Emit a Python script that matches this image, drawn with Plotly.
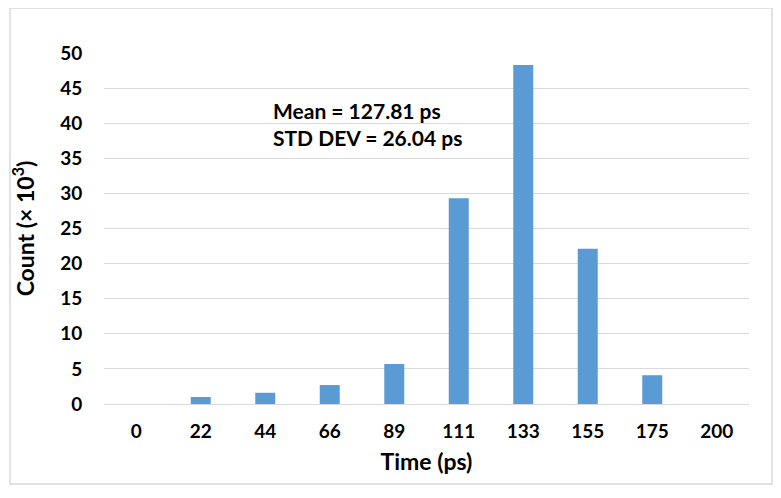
import plotly.graph_objects as go

categories = ["0", "22", "44", "66", "89", "111", "133", "155", "175", "200"]
counts_k = [0, 1.0, 1.6, 2.7, 5.7, 29.3, 48.3, 22.1, 4.1, 0]
y_ticks = [0, 5, 10, 15, 20, 25, 30, 35, 40, 45, 50]
stats_text = "Mean = 127.81 ps<br>STD DEV = 26.04 ps"

FONT = "Lato"
OFF = 8  # page body margin
# target pixel positions in the 781x498 window
PL, PR, PT, PB = 104, 749, 53, 404
W, H = 781 - OFF, 498 - OFF
L, R, T, B = PL - OFF, W - (PR - OFF), PT - OFF, H - (PB - OFF)
pw, ph = W - L - R, H - T - B

fig = go.Figure(go.Bar(x=categories, y=counts_k, marker=dict(color="#5b9bd5", line=dict(width=0)), width=0.31))

def px_to_paper_x(px):
    return (px - PL) / pw

def px_to_paper_y(py):
    return (PB - py) / ph

fig.update_layout(
    width=W, height=H,
    margin=dict(l=L, r=R, t=T, b=B),
    paper_bgcolor="white", plot_bgcolor="white",
    showlegend=False,
    font=dict(family=FONT, color="black"),
    xaxis=dict(
        type="category",
        tickfont=dict(family=FONT, size=19, color="black", weight="bold"),
        ticks="outside", ticklen=10, tickcolor="rgba(0,0,0,0)",
        showgrid=False, showline=False, zeroline=False,
        title=dict(text="Time (ps)", font=dict(family=FONT, size=23, color="black", weight="bold"), standoff=13),
        automargin=False,
    ),
    yaxis=dict(
        range=[0, 50], tickvals=y_ticks,
        tickfont=dict(family=FONT, size=19, color="black", weight="bold"),
        ticks="outside", ticklen=17, tickcolor="rgba(0,0,0,0)",
        showgrid=True, gridcolor="#d9d9d9", gridwidth=1,
        zeroline=True, zerolinecolor="#d9d9d9", zerolinewidth=1,
        showline=False,
        title=dict(text="Count (× 10<sup>3</sup>)", font=dict(family=FONT, size=23, color="black", weight="bold"), standoff=19),
        automargin=False,
    ),
    annotations=[dict(
        xref="paper", yref="paper",
        x=px_to_paper_x(271), y=px_to_paper_y(96),
        xanchor="left", yanchor="top", align="left",
        text=stats_text, showarrow=False,
        font=dict(family=FONT, size=21, color="black", weight="bold"),
    )],
    shapes=[dict(
        type="rect", xref="paper", yref="paper",
        x0=px_to_paper_x(10), x1=px_to_paper_x(772),
        y0=px_to_paper_y(484), y1=px_to_paper_y(8),
        line=dict(color="#d9d9d9", width=1.5), fillcolor="rgba(0,0,0,0)", layer="below",
    )],
)

fig.write_html("out.html")
